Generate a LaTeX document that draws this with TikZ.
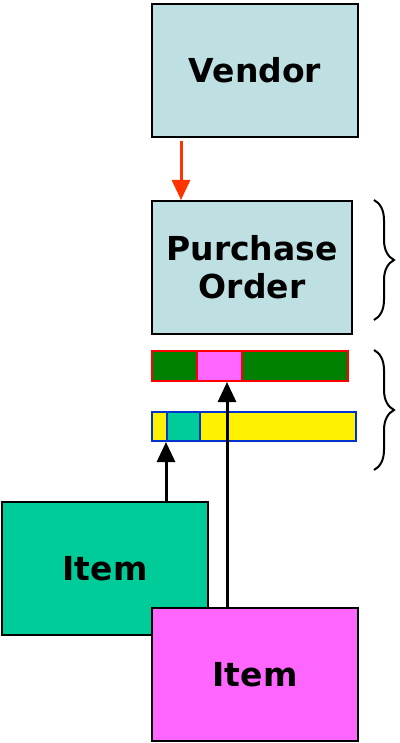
\documentclass[tikz,border=0pt]{standalone}
\usepackage{fontspec}
\setmainfont{DejaVu Sans}
\usepackage{xcolor}
\usetikzlibrary{arrows.meta, decorations.pathreplacing}

\definecolor{vendorblue}{HTML}{BEE0E3}
\definecolor{itemteal}{HTML}{00CC99}
\definecolor{itempink}{HTML}{FF66FF}
\definecolor{bargreen}{HTML}{008000}
\definecolor{barblue}{HTML}{0033CC}
\definecolor{linkred}{HTML}{FF3300}

\begin{document}
\begin{tikzpicture}[x=1pt, y=-1pt]
	\tikzstyle{entity}=[draw, line width=2pt, anchor=north west, inner sep=0pt, minimum width=206pt, minimum height=133pt, align=center, font=\fontsize{33}{38}\selectfont\bfseries]
	\tikzstyle{segment}=[draw, line width=2pt, anchor=north west, inner sep=0pt, minimum height=30pt]
	\tikzstyle{link}=[line width=3pt, -{Triangle[length=20pt, width=18pt]}]
	\tikzstyle{bracket}=[decorate, decoration={brace, amplitude=20pt}, line width=2pt]
	
	\useasboundingbox (0,0) rectangle (399,743);
	
	\node[entity, fill=vendorblue](vendor) at (151,3){Vendor};
	\node[entity, fill=vendorblue, minimum width=200pt](po) at (151,200){Purchase\\Order};
	
	% order lines
	\node[segment, draw=red, fill=bargreen, minimum width=196pt](poline) at (151,350){};
	\node[segment, draw=red, fill=itempink, minimum width=45pt](pinkpart) at (196,350){};
	\node[segment, draw=barblue, fill=yellow, minimum width=204pt, minimum height=29pt](itemline) at (151,411){};
	\node[segment, draw=barblue, fill=itemteal, minimum width=33pt, minimum height=29pt](tealpart) at (166,411){};
	
	\node[entity, fill=itemteal](itemA) at (1,501){Item};
	\node[entity, fill=itempink](itemB) at (151,607){Item};
	
	\draw[link, linkred] ([xshift=30pt, yshift=-3pt]vendor.south west) -- ([xshift=30pt]po.north west);
	\draw[link] (itemA.north -| tealpart.south west) -- (tealpart.south west);
	\coordinate (pinkfoot) at ([xshift=76pt]itemB.north west);
	\draw[link] (pinkfoot) -- (pinkfoot |- pinkpart.south);
	
	\draw[bracket] (374,200) -- (374,320);
	\draw[bracket] (374,350) -- (374,470);
\end{tikzpicture}
\end{document}
